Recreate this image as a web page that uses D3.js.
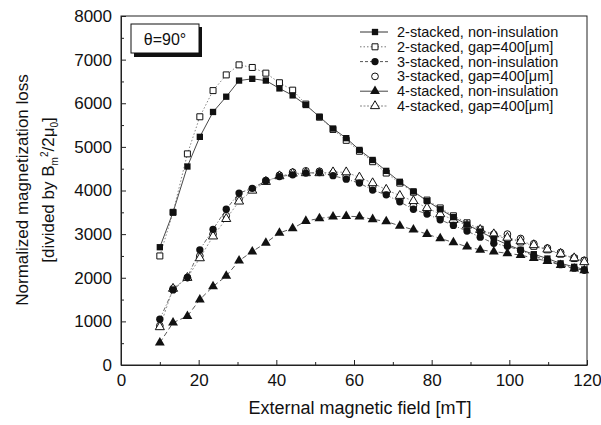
<!DOCTYPE html>
<html>
<head>
<meta charset="utf-8">
<script src="https://cdn.jsdelivr.net/npm/d3@7"></script>
<style>
  body { margin: 0; background: #fff; }
  text { font-family: Arial, "Liberation Sans", sans-serif; fill: #111; }
</style>
</head>
<body>
<svg id="chart" width="601" height="425"></svg>
<script>
// external magnetic field [mT]
const field = [10, 13.4, 17.1, 20.3, 23.7, 27.1, 30.4, 33.8, 37.3, 40.8, 44.2, 47.6, 51.1, 54.6, 58, 61.4,
  64.8, 68.3, 71.8, 75.3, 78.8, 82.2, 85.6, 89.1, 92.5, 96, 99.5, 102.9, 106.3, 109.8, 113.2, 116.7, 119.3];

const twoNonIns = [2700, 3500, 4550, 5230, 5800, 6150, 6520, 6560, 6520, 6340, 6180, 5960, 5690, 5420, 5200, 4930,
  4700, 4450, 4200, 3980, 3760, 3570, 3390, 3220, 3060, 2900, 2760, 2640, 2540, 2440, 2330, 2250, 2190];
const twoGap = [2500, 3500, 4840, 5690, 6290, 6650, 6880, 6820, 6690, 6470, 6300, 5980, 5680, 5400, 5150, 4900,
  4660, 4400, 4170, 3960, 3780, 3600, 3420, 3260, 3110, 2960, 2900, 2820, 2720, 2640, 2540, 2440, 2380];
const threeNonIns = [1050, 1720, 2010, 2640, 3110, 3570, 3940, 4050, 4220, 4320, 4360, 4400, 4410, 4340, 4260, 4170,
  4010, 3900, 3740, 3570, 3460, 3330, 3200, 3070, 2930, 2790, 2720, 2630, 2500, 2400, 2300, 2220, 2170];
const threeGap = [900, 1750, 2000, 2500, 3000, 3420, 3800, 4030, 4230, 4350, 4420, 4450, 4440, 4400, 4320, 4200,
  4080, 3950, 3800, 3650, 3520, 3400, 3280, 3170, 3080, 3000, 3000, 2900, 2780, 2680, 2580, 2460, 2400];
const fourNonIns = [510, 970, 1120, 1500, 1800, 2040, 2390, 2600, 2800, 3030, 3130, 3300, 3360, 3400, 3410, 3400,
  3340, 3290, 3190, 3100, 3000, 2900, 2810, 2710, 2640, 2600, 2560, 2520, 2450, 2380, 2290, 2210, 2170];
const fourGap = [870, 1750, 2000, 2450, 2950, 3350, 3750, 4000, 4200, 4330, 4390, 4400, 4400, 4420, 4420, 4300,
  4170, 4020, 3880, 3760, 3600, 3460, 3330, 3200, 3100, 3000, 2920, 2840, 2750, 2650, 2550, 2450, 2360];

const seriesNames = [
  "2-stacked, non-insulation",
  "2-stacked, gap=400[\u03bcm]",
  "3-stacked, non-insulation",
  "3-stacked, gap=400[\u03bcm]",
  "4-stacked, non-insulation",
  "4-stacked, gap=400[\u03bcm]"
];

const xTicks = [0, 20, 40, 60, 80, 100, 120];
const yTicks = [0, 1000, 2000, 3000, 4000, 5000, 6000, 7000, 8000];

// styles (not data)
const series = [
  { name: seriesNames[0], values: twoNonIns, shape: d3.symbolSquare, size: 40, filled: true, dash: null, stroke: "#333", legendDash: null },
  { name: seriesNames[1], values: twoGap, shape: d3.symbolSquare, size: 36, filled: false, dash: "1.5,2", stroke: "#777", legendDash: "1.5,2" },
  { name: seriesNames[2], values: threeNonIns, shape: d3.symbolCircle, size: 42, filled: true, dash: "4,2,1,2", stroke: "#555", legendDash: "3,2" },
  { name: seriesNames[3], values: threeGap, shape: d3.symbolCircle, size: 36, filled: false, dash: null, stroke: null, legendDash: null },
  { name: seriesNames[4], values: fourNonIns, shape: d3.symbolTriangle, size: 42, filled: true, dash: "5,3", stroke: "#444", legendDash: null },
  { name: seriesNames[5], values: fourGap, shape: d3.symbolTriangle, size: 36, filled: false, dash: "2,2", stroke: "#888", legendDash: "2,1.5" }
];

const svg = d3.select("#chart");
const margin = { top: 16, right: 14, bottom: 60, left: 121 };
const width = 601 - margin.left - margin.right;
const height = 425 - margin.top - margin.bottom;

const x = d3.scaleLinear().domain([0, 120]).range([0, width]);
const y = d3.scaleLinear().domain([0, 8000]).range([height, 0]);

const g = svg.append("g").attr("transform", `translate(${margin.left},${margin.top})`);

// frame
g.append("rect")
  .attr("width", width).attr("height", height)
  .attr("fill", "none").attr("stroke", "#222").attr("stroke-width", 1);

// x axis
const xAxis = g.append("g")
  .attr("transform", `translate(0,${height})`)
  .call(d3.axisBottom(x).tickValues(xTicks).tickSizeInner(-5).tickSizeOuter(0).tickPadding(9));
xAxis.select(".domain").attr("stroke", "#222");
xAxis.selectAll("line").attr("stroke", "#222");
xAxis.selectAll("text").style("font-size", "17px").attr("fill", "#111");
g.append("g").attr("transform", `translate(0,${height})`)
  .call(d3.axisBottom(x).tickValues(d3.range(10, 120, 20)).tickSizeInner(-3).tickSizeOuter(0).tickFormat(""))
  .call(a => a.select(".domain").remove())
  .selectAll("line").attr("stroke", "#222");

// y axis
const yAxis = g.append("g")
  .call(d3.axisLeft(y).tickValues(yTicks).tickFormat(d3.format("d")).tickSizeInner(-5).tickSizeOuter(0).tickPadding(9));
yAxis.select(".domain").attr("stroke", "#222");
yAxis.selectAll("line").attr("stroke", "#222");
yAxis.selectAll("text").style("font-size", "17px").attr("fill", "#111");
g.append("g")
  .call(d3.axisLeft(y).tickValues(d3.range(500, 8000, 1000)).tickSizeInner(-3).tickSizeOuter(0).tickFormat(""))
  .call(a => a.select(".domain").remove())
  .selectAll("line").attr("stroke", "#222");

// lines
const line = d3.line().x((d, i) => x(field[i])).y(d => y(d));
series.forEach(s => {
  if (!s.stroke) return;
  g.append("path")
    .datum(s.values)
    .attr("d", line)
    .attr("fill", "none")
    .attr("stroke", s.stroke)
    .attr("stroke-width", 0.9)
    .attr("stroke-dasharray", s.dash);
});

// markers: open ones first, filled on top
const order = [1, 3, 5, 0, 2, 4];
order.forEach(k => {
  const s = series[k];
  g.append("g").selectAll("path")
    .data(s.values)
    .join("path")
    .attr("transform", (d, i) => `translate(${x(field[i])},${y(d)})`)
    .attr("d", d3.symbol().type(s.shape).size(s.size))
    .attr("fill", s.filled ? "#111" : "#fff")
    .attr("stroke", "#111")
    .attr("stroke-width", s.filled ? 0 : 1);
});

// legend
const legend = svg.append("g").attr("transform", "translate(360,32)");
series.forEach((s, i) => {
  const row = legend.append("g").attr("transform", `translate(0,${i * 14.8})`);
  if (s.stroke) {
    row.append("line").attr("x1", 0).attr("x2", 28).attr("y1", 0).attr("y2", 0)
      .attr("stroke", s.stroke).attr("stroke-width", 1).attr("stroke-dasharray", s.legendDash);
  }
  row.append("path")
    .attr("transform", "translate(15,0)")
    .attr("d", d3.symbol().type(s.shape).size(s.size))
    .attr("fill", s.filled ? "#111" : "#fff")
    .attr("stroke", "#111")
    .attr("stroke-width", s.filled ? 0 : 1);
  row.append("text")
    .attr("x", 37).attr("y", 0).attr("dy", "0.35em")
    .style("font-size", "14.5px")
    .text(s.name);
});

// theta box
svg.append("rect").attr("x", 134).attr("y", 27).attr("width", 68).attr("height", 30).attr("fill", "#111");
svg.append("rect").attr("x", 131).attr("y", 24).attr("width", 68).attr("height", 29)
  .attr("fill", "#fff").attr("stroke", "#111").attr("stroke-width", 1);
svg.append("text").attr("x", 165).attr("y", 39).attr("dy", "0.35em")
  .attr("text-anchor", "middle").style("font-size", "16px").text("\u03b8=90\u00b0");

// axis titles
svg.append("text")
  .attr("x", 360).attr("y", 414)
  .attr("text-anchor", "middle").style("font-size", "18px")
  .text("External magnetic field [mT]");

const yTitle = svg.append("text")
  .attr("transform", "translate(28,190) rotate(-90)")
  .attr("text-anchor", "middle").style("font-size", "17px");
yTitle.append("tspan").attr("x", 0).attr("y", 0).text("Normalized magnetization loss");
const sub = svg.append("text")
  .attr("transform", "translate(54,190) rotate(-90)")
  .attr("text-anchor", "middle").style("font-size", "17px");
sub.append("tspan").text("[divided by B");
sub.append("tspan").attr("dy", 4).style("font-size", "10px").text("m");
sub.append("tspan").attr("dy", -10).style("font-size", "10px").text("2");
sub.append("tspan").attr("dy", 6).text("/2\u03bc");
sub.append("tspan").attr("dy", 4).style("font-size", "10px").text("0");
sub.append("tspan").attr("dy", -4).text("]");
</script>
</body>
</html>
